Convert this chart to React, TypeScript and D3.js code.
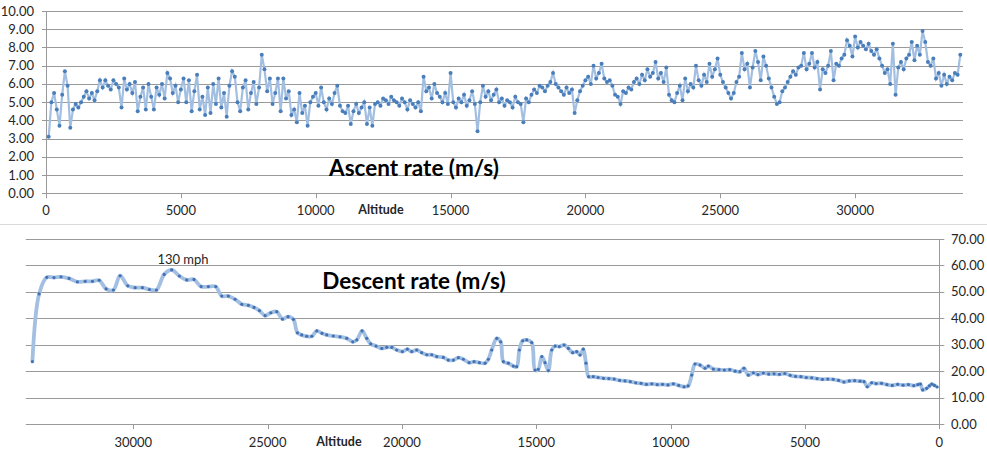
import React, { useEffect, useRef } from 'react';
import * as d3 from 'd3';

// Ascent: one reading every 100 ft, starting at 100 ft
const ascentStart = 100;
const ascentStep = 100;
const ascentRate = [
  3.1, 5.0, 5.5, 4.6, 3.7, 5.4, 6.7, 5.9, 3.6,
  4.6, 4.9, 4.7, 5.0, 5.3, 5.6, 5.2, 5.5, 5.1, 5.6,
  6.2, 5.8, 6.2, 5.9, 5.7, 6.2, 6.0, 5.8, 4.7, 6.3,
  5.7, 6.0, 5.5, 6.1, 4.5, 5.3, 5.8, 4.6, 6.0, 5.3,
  4.6, 5.8, 5.4, 6.0, 5.2, 6.6, 6.3, 5.5, 5.9, 5.0,
  5.7, 6.3, 5.0, 6.2, 4.5, 5.6, 6.5, 4.6, 5.3, 4.3,
  5.8, 4.4, 6.0, 4.9, 6.3, 4.7, 5.5, 4.2, 5.9, 6.7,
  6.4, 5.0, 4.5, 5.8, 6.2, 4.6, 5.5, 6.1, 4.9, 5.8,
  7.6, 6.8, 5.6, 6.3, 4.9, 5.5, 6.3, 4.5, 6.3, 5.2,
  5.6, 4.3, 4.6, 3.9, 5.5, 4.4, 4.8, 3.7, 5.0, 5.3,
  5.5, 4.8, 5.8, 5.0, 4.6, 5.2, 4.9, 5.5, 5.9, 4.8,
  4.5, 4.4, 4.8, 3.8, 4.5, 4.9, 4.4, 4.7, 5.0, 3.8,
  4.7, 3.7, 4.9, 5.0, 4.8, 5.2, 5.1, 4.9, 5.3, 5.1,
  5.0, 4.8, 5.2, 5.0, 4.6, 5.1, 4.9, 4.7, 5.0, 4.5,
  6.4, 5.6, 5.8, 5.2, 6.0, 5.5, 5.3, 5.0, 5.5, 4.9,
  6.6, 5.0, 4.7, 5.2, 5.0, 5.4, 4.8, 5.1, 5.6, 4.9,
  3.4, 5.0, 5.9, 5.3, 5.6, 5.1, 5.4, 5.7, 5.0, 5.2,
  4.8, 5.1, 5.0, 4.7, 5.3, 5.0, 4.9, 3.9, 5.2, 5.0,
  5.4, 5.7, 5.5, 5.9, 5.8, 5.6, 5.9, 6.1, 6.6, 6.0,
  5.8, 5.6, 5.4, 5.8, 5.5, 5.7, 4.4, 5.1, 5.6, 5.9,
  6.2, 6.4, 6.0, 7.0, 6.3, 6.6, 7.1, 6.3, 6.1, 6.2,
  5.9, 5.4, 5.3, 4.9, 5.6, 5.5, 5.8, 5.7, 6.1, 6.3,
  6.0, 6.5, 6.2, 6.8, 6.4, 6.6, 7.2, 6.3, 6.6, 6.1,
  6.9, 5.4, 5.1, 5.0, 5.5, 5.9, 5.1, 6.3, 5.6, 6.0,
  5.8, 7.0, 6.2, 5.9, 6.5, 6.1, 7.1, 6.4, 6.8, 7.4,
  6.5, 6.1, 5.8, 5.5, 5.2, 5.5, 6.1, 6.4, 7.7, 6.8,
  7.1, 5.8, 6.9, 7.8, 7.2, 6.2, 7.5, 7.0, 6.3, 5.8,
  5.3, 4.9, 5.0, 5.6, 5.8, 6.1, 6.4, 6.7, 6.5, 6.9,
  7.0, 7.7, 6.8, 7.1, 7.7, 6.9, 7.2, 5.7, 6.8, 6.6,
  7.0, 7.8, 6.2, 7.1, 7.0, 7.4, 7.6, 8.4, 8.1, 7.5,
  8.6, 8.0, 8.3, 8.1, 7.9, 8.2, 7.8, 7.6, 7.9, 7.4,
  7.0, 6.6, 6.8, 6.0, 8.2, 5.4, 6.9, 7.2, 6.8, 7.4,
  7.6, 8.3, 7.3, 8.1, 7.6, 8.9, 8.3, 7.2, 7.0, 7.4,
  6.3, 6.6, 5.9, 6.5, 6.0, 6.4, 6.2, 6.6, 6.5, 7.6,
];

const descentAltitude = [
  33755, 33505, 33220, 32950, 32690, 32390, 32080, 31790, 31520, 31270,
  31010, 30740, 30490, 30205, 29930, 29660, 29400, 29140, 28850, 28570,
  28285, 28010, 27740, 27475, 27205, 26930, 26705, 26460, 26210, 25960,
  25715, 25505, 25305, 25095, 24880, 24660, 24450, 24240, 24040, 23890,
  23730, 23545, 23355, 23170, 22975, 22800, 22555, 22305, 22055, 21830,
  21680, 21485, 21310, 21160, 20965, 20750, 20565, 20380, 20195, 19985,
  19800, 19635, 19450, 19265, 19075, 18890, 18705, 18460, 18275, 18085,
  17900, 17715, 17500, 17315, 17120, 16905, 16785, 16660, 16470, 16325,
  16225, 16040, 15855, 15730, 15630, 15505, 15355, 15170, 15045, 14925,
  14795, 14675, 14550, 14425, 14300, 14140, 13965, 13805, 13645, 13495,
  13370, 13250, 13150, 13050, 12880, 12700, 12500, 12300, 12100, 11900,
  11700, 11500, 11300, 11100, 10900, 10700, 10500, 10300, 10100, 9900,
  9700, 9500, 9350, 9215, 9090, 8905, 8720, 8595, 8410, 8200,
  8000, 7800, 7600, 7420, 7270, 7110, 6920, 6750, 6550, 6350,
  6150, 5950, 5750, 5550, 5350, 5150, 4950, 4750, 4550, 4350,
  4150, 3950, 3750, 3550, 3350, 3150, 2950, 2800, 2680, 2520,
  2350, 2150, 1950, 1750, 1550, 1350, 1150, 950, 800, 700,
  620, 470, 370, 280, 180, 80,
];
const descentRate = [
  23.6, 49.2, 55.5, 55.4, 55.7, 55.1, 53.8, 54.0, 54.0, 54.4,
  51.1, 50.7, 56.1, 52.3, 51.6, 51.6, 50.9, 50.7, 56.6, 58.3,
  56.0, 54.5, 54.7, 52.0, 52.0, 52.0, 48.4, 48.4, 47.2, 45.3,
  44.9, 44.1, 42.9, 41.0, 42.1, 42.5, 39.7, 40.6, 39.6, 34.5,
  33.7, 33.2, 33.2, 35.2, 34.3, 33.7, 33.3, 33.0, 32.4, 31.1,
  31.8, 35.2, 32.4, 30.3, 29.5, 28.6, 29.0, 29.0, 28.0, 27.4,
  28.3, 27.4, 28.0, 27.0, 26.2, 26.2, 25.5, 25.2, 24.2, 24.2,
  25.1, 24.5, 23.2, 23.6, 23.2, 23.0, 24.5, 28.0, 32.4, 31.1,
  23.6, 23.0, 21.9, 21.7, 28.0, 31.5, 31.8, 30.8, 20.4, 20.7,
  25.5, 23.2, 20.2, 28.0, 29.5, 29.3, 29.9, 28.6, 27.0, 27.4,
  26.1, 28.3, 23.0, 17.9, 17.9, 17.6, 17.3, 17.2, 17.0, 16.5,
  16.3, 16.0, 15.6, 15.4, 15.0, 15.2, 14.9, 15.0, 14.8, 15.2,
  14.6, 14.1, 14.4, 18.5, 22.7, 22.3, 21.1, 21.9, 20.8, 20.6,
  20.4, 20.6, 20.0, 19.8, 21.1, 18.5, 19.4, 18.7, 19.3, 18.9,
  19.0, 18.8, 19.1, 18.4, 18.0, 17.9, 17.6, 17.5, 17.2, 16.9,
  17.0, 16.9, 16.5, 15.9, 16.3, 16.4, 16.2, 16.0, 14.1, 15.6,
  15.3, 15.4, 14.9, 14.6, 15.0, 14.7, 14.9, 14.5, 14.9, 15.1,
  12.9, 13.5, 14.4, 15.1, 14.6, 14.0,
];

const ascentYTicks = [0, 1, 2, 3, 4, 5, 6, 7, 8, 9, 10];
const ascentXTicks = [0, 5000, 10000, 15000, 20000, 25000, 30000];
const descentYTicks = [0, 10, 20, 30, 40, 50, 60, 70];
const descentXTicks = [30000, 25000, 20000, 15000, 10000, 5000, 0];

const WIDTH = 987;
const HEIGHT = 452;
const FONT = "Lato, 'Open Sans', sans-serif";
const GRID = '#9a9a9a';
const TEXT = '#262626';

const App: React.FC = () => {
  const svgRef = useRef<SVGSVGElement>(null);

  useEffect(() => {
    if (!svgRef.current) return;
    const svg = d3.select(svgRef.current);
    svg.selectAll('*').remove();

    svg.append('rect').attr('width', WIDTH).attr('height', HEIGHT).attr('fill', '#fff');

    // separator between the two charts
    svg.append('line')
      .attr('x1', 0).attr('x2', WIDTH).attr('y1', 224.5).attr('y2', 224.5)
      .attr('stroke', '#d9d9d9');

    // ---------- Ascent chart ----------
    const ax = d3.scaleLinear().domain([0, 34000]).range([46, 963]);
    const ay = d3.scaleLinear().domain([0, 10]).range([193.3, 11]);
    const top = svg.append('g');

    top.selectAll('line.grid')
      .data(ascentYTicks)
      .enter().append('line')
      .attr('x1', ax(0) - 4).attr('x2', ax(34000))
      .attr('y1', d => Math.round(ay(d)) + 0.5).attr('y2', d => Math.round(ay(d)) + 0.5)
      .attr('stroke', GRID);

    top.append('line')
      .attr('x1', ax(0) + 0.5).attr('x2', ax(0) + 0.5)
      .attr('y1', ay(10)).attr('y2', ay(0))
      .attr('stroke', GRID);

    top.selectAll('line.xt')
      .data(ascentXTicks)
      .enter().append('line')
      .attr('x1', d => Math.round(ax(d)) + 0.5).attr('x2', d => Math.round(ax(d)) + 0.5)
      .attr('y1', ay(0)).attr('y2', ay(0) + 5)
      .attr('stroke', GRID);

    top.selectAll('text.yl')
      .data(ascentYTicks)
      .enter().append('text')
      .attr('x', 34).attr('y', d => ay(d))
      .attr('dy', '0.35em')
      .attr('text-anchor', 'end')
      .style('font-family', FONT).style('font-size', '13px').attr('fill', TEXT)
      .text(d => d3.format('.2f')(d));

    top.selectAll('text.xl')
      .data(ascentXTicks)
      .enter().append('text')
      .attr('x', d => ax(d)).attr('y', 215)
      .attr('text-anchor', 'middle')
      .style('font-family', FONT).style('font-size', '13px').attr('fill', TEXT)
      .text(d => String(d));

    top.append('text')
      .attr('x', 381).attr('y', 214)
      .attr('text-anchor', 'middle')
      .style('font-family', FONT).style('font-size', '12.5px').style('font-weight', 'bold')
      .attr('fill', TEXT)
      .text('Altitude');

    const ascentPts = ascentRate.map((v, i) => [ascentStart + i * ascentStep, v] as [number, number]);
    const ascentLine = d3.line<[number, number]>().x(d => ax(d[0])).y(d => ay(d[1]));

    top.append('path')
      .datum(ascentPts)
      .attr('d', ascentLine)
      .attr('fill', 'none')
      .attr('stroke', '#a2bfe2')
      .attr('stroke-width', 2.2);

    top.selectAll('circle')
      .data(ascentPts)
      .enter().append('circle')
      .attr('cx', d => ax(d[0])).attr('cy', d => ay(d[1]))
      .attr('r', 2)
      .attr('fill', '#4a7ebb');

    top.append('text')
      .attr('x', 414).attr('y', 176)
      .attr('text-anchor', 'middle')
      .style('font-family', FONT).style('font-size', '22.5px').style('font-weight', 'bold')
      .attr('fill', '#000')
      .text('Ascent rate (m/s)');

    // ---------- Descent chart ----------
    const dx = d3.scaleLinear().domain([34000, 0]).range([25.8, 939.3]);
    const dy = d3.scaleLinear().domain([0, 70]).range([424, 239]);
    const bottom = svg.append('g');

    bottom.selectAll('line.grid')
      .data(descentYTicks)
      .enter().append('line')
      .attr('x1', dx(34000)).attr('x2', dx(0) + 5)
      .attr('y1', d => Math.round(dy(d)) + 0.5).attr('y2', d => Math.round(dy(d)) + 0.5)
      .attr('stroke', GRID);

    bottom.append('line')
      .attr('x1', Math.round(dx(0)) + 0.5).attr('x2', Math.round(dx(0)) + 0.5)
      .attr('y1', dy(70)).attr('y2', dy(0))
      .attr('stroke', GRID);

    bottom.selectAll('line.xt')
      .data(descentXTicks)
      .enter().append('line')
      .attr('x1', d => Math.round(dx(d)) + 0.5).attr('x2', d => Math.round(dx(d)) + 0.5)
      .attr('y1', dy(0)).attr('y2', dy(0) + 5)
      .attr('stroke', GRID);

    bottom.selectAll('text.yl')
      .data(descentYTicks)
      .enter().append('text')
      .attr('x', 951).attr('y', d => dy(d))
      .attr('dy', '0.35em')
      .style('font-family', FONT).style('font-size', '13px').attr('fill', TEXT)
      .text(d => d3.format('.2f')(d));

    bottom.selectAll('text.xl')
      .data(descentXTicks)
      .enter().append('text')
      .attr('x', d => dx(d)).attr('y', 446.5)
      .attr('text-anchor', 'middle')
      .style('font-family', FONT).style('font-size', '13px').attr('fill', TEXT)
      .text(d => String(d));

    bottom.append('text')
      .attr('x', 339).attr('y', 446)
      .attr('text-anchor', 'middle')
      .style('font-family', FONT).style('font-size', '12.5px').style('font-weight', 'bold')
      .attr('fill', TEXT)
      .text('Altitude');

    const descentPts = descentAltitude.map((a, i) => [a, descentRate[i]] as [number, number]);
    const descentLine = d3.line<[number, number]>()
      .x(d => dx(d[0])).y(d => dy(d[1]))
      .curve(d3.curveCatmullRom.alpha(0.5));

    bottom.append('path')
      .datum(descentPts)
      .attr('d', descentLine)
      .attr('fill', 'none')
      .attr('stroke', '#a3bfe2')
      .attr('stroke-width', 3.8)
      .attr('stroke-linejoin', 'round');

    bottom.selectAll('circle')
      .data(descentPts)
      .enter().append('circle')
      .attr('cx', d => dx(d[0])).attr('cy', d => dy(d[1]))
      .attr('r', 1.6)
      .attr('fill', '#4272b4');

    bottom.append('text')
      .attr('x', 183).attr('y', 263.5)
      .attr('text-anchor', 'middle')
      .style('font-family', FONT).style('font-size', '13px')
      .attr('fill', TEXT)
      .text('130 mph');

    bottom.append('text')
      .attr('x', 414).attr('y', 289)
      .attr('text-anchor', 'middle')
      .style('font-family', FONT).style('font-size', '22.5px').style('font-weight', 'bold')
      .attr('fill', '#000')
      .text('Descent rate (m/s)');
  }, []);

  return (
    <svg
      ref={svgRef}
      width={WIDTH}
      height={HEIGHT}
      style={{ position: 'absolute', left: 0, top: 0, display: 'block' }}
    />
  );
};

export default App;
